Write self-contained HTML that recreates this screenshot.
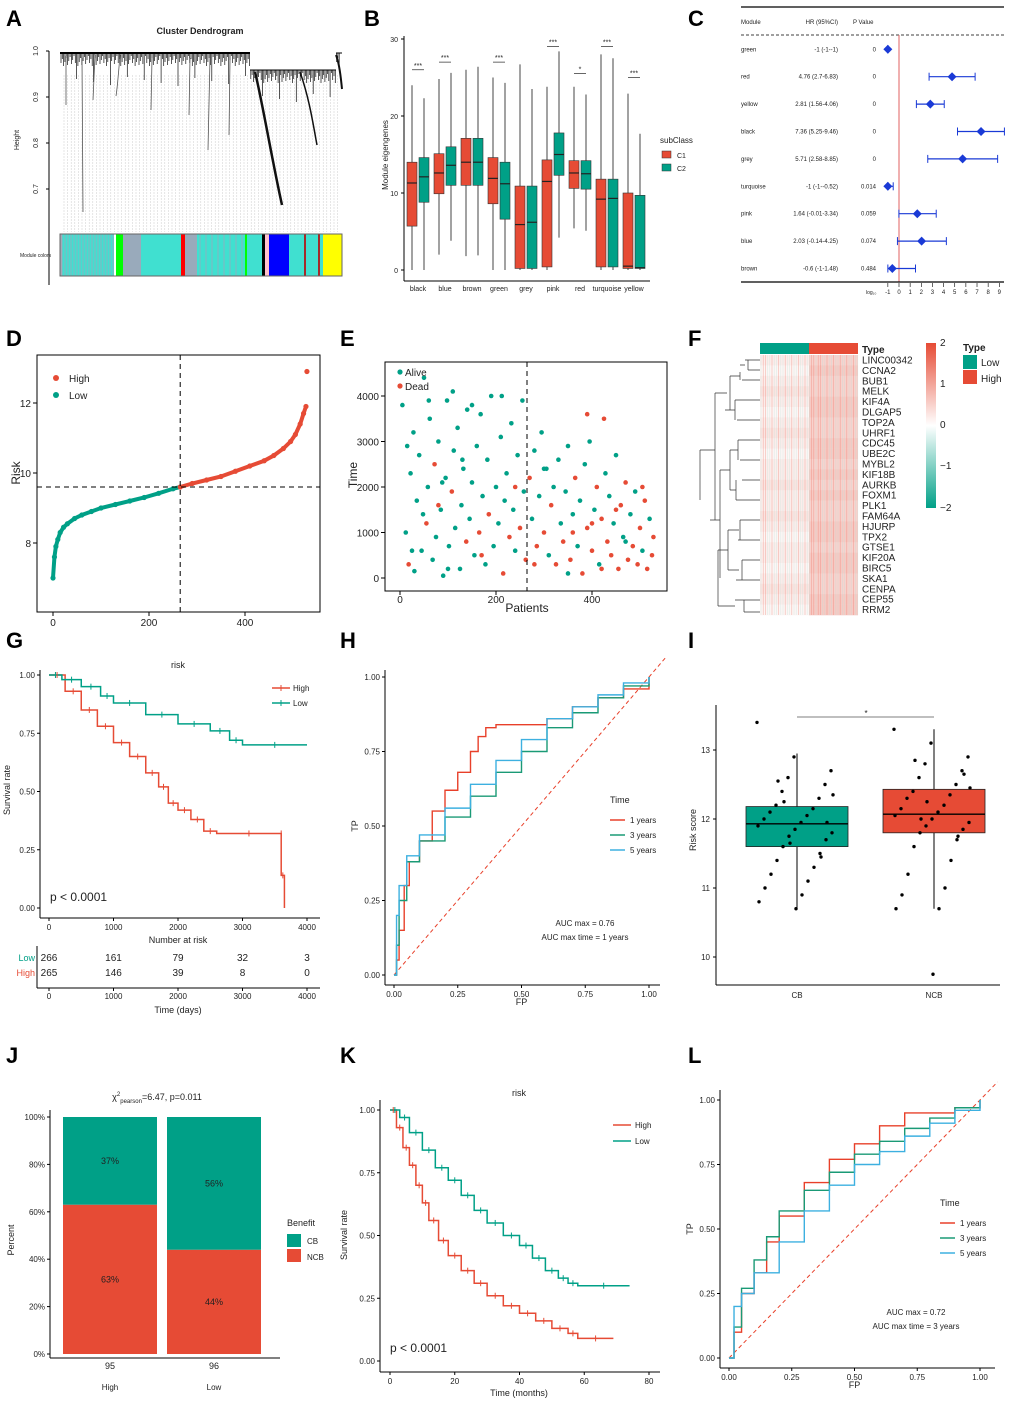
<!DOCTYPE html>
<html><head><meta charset="utf-8"><style>
body{margin:0;background:#fff}
svg{display:block;font-family:"Liberation Sans",Arial,sans-serif}
</style></head><body>
<svg id="fig" width="1020" height="1404" viewBox="0 0 1020 1404" xmlns="http://www.w3.org/2000/svg">
<g font-size="22" font-weight="bold">
<text x="6" y="26">A</text><text x="364" y="26">B</text><text x="688" y="26">C</text>
<text x="6" y="346">D</text><text x="340" y="346">E</text><text x="688" y="346">F</text>
<text x="6" y="648">G</text><text x="340" y="648">H</text><text x="688" y="648">I</text>
<text x="6" y="1063">J</text><text x="340" y="1063">K</text><text x="688" y="1063">L</text>
</g>
</svg>
<script>
const RED='#e64b35',TEAL='#00a087',BLUE='#3db0e0',ROCR='#e8402a',ROCG='#1a9a76';
// ---------- DATA ----------
const bCats=['black','blue','brown','green','grey','pink','red','turquoise','yellow'];
const bC1=[[0,5.7,11.3,14,24],[2,9.9,12.6,15.1,24.8],[1.8,11,14,17.1,26],[0,8.6,11.9,14.6,25],[0,0.2,5.9,10.9,26.7],[0,0.4,11.5,14.3,23.8],[5.4,10.6,12.6,14.2,23.8],[0,0.4,9.2,11.8,28],[0,0.2,0.5,10,22.9]];
const bC2=[[0,8.8,12.1,14.6,22.3],[3.8,11,13.6,16,25.6],[1.9,11,14,17.1,26.4],[0,6.6,11.2,14,24.3],[0,0.2,6.2,10.9,23.5],[4.2,12.3,15,17.8,28.4],[5.1,10.5,12.5,14.2,22.8],[0,0.4,9.3,11.8,27.5],[0,0.2,0.3,9.7,17.7]];
const bStars=['***','***','','***','','***','*','***','***'];
const bStarY=[26,27,0,27,0,29,25.5,29,25];
const cMods=['green','red','yellow','black','grey','turquoise','pink','blue','brown'];
const cHR=[-1,4.76,2.81,7.36,5.71,-1,1.64,2.03,-0.6];
const cLo=[-1,2.7,1.56,5.25,2.58,-1,-0.01,-0.14,-1];
const cHi=[-1,6.83,4.06,9.46,8.85,-0.52,3.34,4.25,1.48];
const cP=['0','0','0','0','0','0.014','0.059','0.074','0.484'];
const dRank=[0,3,6,10,15,22,30,45,60,80,100,130,160,190,220,250,265,290,320,350,380,410,440,460,480,495,505,515,522,527,529];
const dRisk=[7.0,7.6,7.9,8.1,8.3,8.45,8.55,8.7,8.8,8.9,9.0,9.1,9.2,9.3,9.42,9.55,9.6,9.7,9.8,9.9,10.05,10.2,10.35,10.5,10.7,10.9,11.1,11.4,11.7,11.9,12.9];
const ePts=[[5,3800,0],[12,1000,0],[18,300,1],[22,2300,0],[28,3200,0],[30,150,0],[35,1700,0],[40,2700,0],[45,600,0],[50,4400,0],[55,1200,1],[58,2000,0],[62,3500,0],[68,400,0],[72,2500,1],[75,900,0],[80,3000,0],[85,1500,0],[90,50,0],[95,2200,0],[98,3900,0],[102,700,0],[108,1900,1],[112,2800,0],[115,1100,0],[120,3300,0],[125,200,0],[128,1600,0],[132,2400,0],[138,800,1],[140,3700,0],[145,1300,0],[150,2100,0],[155,500,0],[160,2900,0],[165,1000,1],[168,3600,0],[172,1800,0],[178,300,0],[182,2600,0],[185,1400,1],[190,4000,0],[195,700,0],[200,2000,0],[205,1200,0],[210,3100,0],[215,100,1],[218,1700,0],[222,2300,0],[228,900,1],[232,3400,0],[236,1500,0],[240,600,0],[245,2700,0],[250,1100,1],[255,3900,0],[258,1900,0],[262,400,1],[270,2200,1],[275,1300,0],[280,2800,0],[285,700,1],[290,1800,0],[295,3200,0],[300,1000,1],[305,2400,0],[310,500,0],[315,1600,1],[320,2000,0],[325,300,1],[330,2600,0],[335,1200,0],[340,800,1],[345,1900,0],[350,2900,0],[355,400,1],[360,1400,0],[365,2200,1],[370,700,0],[375,1700,0],[380,100,1],[385,2500,0],[390,1100,1],[395,3000,0],[400,600,1],[405,1500,0],[410,2000,1],[415,300,0],[420,1300,1],[425,3500,1],[428,2300,0],[432,800,1],[436,1800,0],[440,500,1],[445,1200,0],[450,2700,0],[455,200,1],[460,1600,1],[465,900,0],[470,2100,1],[475,400,1],[480,1400,0],[485,700,1],[490,1900,0],[495,300,1],[500,1100,1],[505,600,0],[510,1700,1],[515,200,1],[520,1300,0],[525,500,1],[528,900,1],[60,3900,0],[110,4100,0],[150,3800,0],[212,4000,0],[130,2600,0],[88,2100,0],[48,1400,0],[25,600,0],[350,100,0],[400,1200,1],[450,1500,1],[300,2400,0],[240,2000,1],[170,500,1],[390,3600,1],[100,200,0],[80,1600,1],[15,2900,0],[505,2000,1],[470,800,0],[420,200,1],[360,1000,1],[280,300,1]];
const fGenes=['LINC00342','CCNA2','BUB1','MELK','KIF4A','DLGAP5','TOP2A','UHRF1','CDC45','UBE2C','MYBL2','KIF18B','AURKB','FOXM1','PLK1','FAM64A','HJURP','TPX2','GTSE1','KIF20A','BIRC5','SKA1','CENPA','CEP55','RRM2'];
const fLow=[0.2,0.1,0.2,0.3,0.2,0.1,0.2,0.3,0.2,0.1,0.2,0.2,0.3,0.2,0.2,0.3,0.2,0.1,0.2,0.2,0.1,0.2,0.3,0.2,0.1];
const fHigh=[0.5,0.6,0.5,0.5,0.6,0.6,0.5,0.5,0.6,0.6,0.5,0.6,0.5,0.6,0.5,0.5,0.6,0.6,0.5,0.6,0.6,0.5,0.5,0.6,0.6];
const gHighT=[0,250,500,750,1000,1250,1500,1700,1850,2000,2200,2400,2600,3600,3600,3650];
const gHighS=[1,0.93,0.85,0.78,0.71,0.65,0.58,0.52,0.45,0.42,0.38,0.33,0.32,0.32,0.14,0];
const gLowT=[0,200,500,800,1000,1500,2000,2500,2800,3000,4000];
const gLowS=[1,0.98,0.95,0.91,0.88,0.83,0.79,0.76,0.72,0.70,0.70];
const gRiskT=[0,1000,2000,3000,4000];
const gRiskLow=[266,161,79,32,3];
const gRiskHigh=[265,146,39,8,0];
const hF1=[0,0.01,0.02,0.04,0.06,0.1,0.15,0.2,0.25,0.3,0.33,0.36,0.4,0.5,0.6,0.7,0.8,0.9,1];
const hT1=[0,0.05,0.15,0.3,0.38,0.45,0.55,0.62,0.68,0.75,0.8,0.83,0.84,0.84,0.86,0.9,0.93,0.96,1];
const hF3=[0,0.01,0.02,0.05,0.1,0.2,0.3,0.4,0.5,0.6,0.7,0.8,0.9,1];
const hT3=[0,0.1,0.25,0.38,0.45,0.53,0.6,0.68,0.75,0.83,0.88,0.93,0.97,1];
const hF5=[0,0.01,0.02,0.05,0.1,0.2,0.3,0.4,0.5,0.6,0.7,0.8,0.9,1];
const hT5=[0,0.2,0.3,0.4,0.47,0.56,0.64,0.72,0.79,0.86,0.9,0.94,0.98,1];
const iCats=['CB','NCB'];
const iBox=[[10.7,11.6,11.93,12.18,12.95],[10.7,11.8,12.07,12.43,13.3]];
const iCB=[13.4,12.9,12.7,12.6,12.5,12.4,12.3,12.2,12.15,12.1,12.05,12.0,11.95,11.9,11.85,11.8,11.75,11.7,11.6,11.5,11.4,11.3,11.2,11.1,11.0,10.9,10.8,10.7,12.35,11.65,11.95,12.25,11.45,12.55];
const iNCB=[13.3,13.1,12.9,12.8,12.7,12.6,12.5,12.4,12.35,12.3,12.2,12.15,12.1,12.05,12.0,11.95,11.9,11.85,11.8,11.7,11.6,11.4,11.2,11.0,10.9,10.7,10.7,9.75,12.45,12.25,12.65,12.0,11.75,12.85];
const jCats=['High','Low'];
const jNCB=[63,44];
const jCB=[37,56];
const jN=[95,96];
const kHighT=[0,2,4,6,8,10,12,15,18,22,26,30,35,40,45,50,55,58,69];
const kHighS=[1,0.93,0.85,0.78,0.7,0.63,0.56,0.48,0.42,0.36,0.31,0.26,0.22,0.19,0.16,0.13,0.11,0.09,0.09];
const kLowT=[0,3,6,10,14,18,22,26,30,35,40,44,48,52,55,58,74];
const kLowS=[1,0.97,0.91,0.84,0.77,0.72,0.66,0.6,0.55,0.5,0.46,0.41,0.36,0.33,0.31,0.3,0.3];
const lF1=[0,0.02,0.05,0.1,0.15,0.2,0.3,0.4,0.5,0.6,0.7,0.8,0.9,1];
const lT1=[0,0.1,0.25,0.33,0.45,0.55,0.68,0.77,0.83,0.9,0.95,0.95,0.97,1];
const lF3=[0,0.02,0.05,0.1,0.15,0.2,0.3,0.4,0.5,0.6,0.7,0.8,0.9,1];
const lT3=[0,0.12,0.27,0.38,0.47,0.57,0.65,0.72,0.79,0.84,0.89,0.93,0.97,1];
const lF5=[0,0.02,0.05,0.1,0.2,0.3,0.4,0.5,0.6,0.7,0.8,0.9,1];
const lT5=[0,0.2,0.25,0.33,0.45,0.57,0.67,0.75,0.8,0.86,0.91,0.96,1];
// ---------- HELPERS ----------
const svg=document.getElementById('fig');
const NS='http://www.w3.org/2000/svg';
function mk(tag,attrs,name,parent){
  const el=document.createElementNS(NS,tag);
  for(const k in attrs) el.setAttribute(k,attrs[k]);
  
  
  (parent||svg).appendChild(el);return el;
}
function tx(x,y,s,name,o){o=o||{};const el=mk('text',Object.assign({x:x,y:y,'font-size':9,fill:'#222'},o),name);el.textContent=s;return el;}
function ln(x1,y1,x2,y2,name,o){return mk('line',Object.assign({x1:x1,y1:y1,x2:x2,y2:y2,stroke:'#000','stroke-width':1},o||{}),name);}
function lin(d0,d1,r0,r1){return v=>r0+(v-d0)*(r1-r0)/(d1-d0);}
function step(xs,ys,fx,fy){let d='M'+fx(xs[0])+','+fy(ys[0]);for(let i=1;i<xs.length;i++){d+=' H'+fx(xs[i])+' V'+fy(ys[i]);}return d;}
// ---------- A dendrogram ----------
tx(200,34,'Cluster Dendrogram','dendrogram-title',{'font-size':9,'font-weight':'bold','text-anchor':'middle'});
{const y=lin(0.7,1.0,189,51);
 ln(49,y(1.0),49,285,'a-y-axis',{stroke:'#000'});
 [0.7,0.8,0.9,1.0].forEach(v=>{ln(46,y(v),49,y(v),'a-tick');tx(38,y(v),v.toFixed(1),'a-tick-label',{transform:`rotate(-90 38 ${y(v)})`,'text-anchor':'middle','font-size':7});});
 tx(19,140,'Height','a-y-title',{transform:'rotate(-90 19 140)','text-anchor':'middle','font-size':7});
 for(let x=64;x<340;x+=3.6) ln(x,75,x,232,'dendro-leaf',{stroke:'#ccc','stroke-width':0.5,'stroke-dasharray':'2,1'});
 // top fringe: short hanging branches
 let d='';let k=0;
 for(let x=61;x<340;x+=1.3){k++;const base=(x>250&&x<336)?70:53;const len=3+((k*7)%11)+((k%13===0)?20:0);d+=`M${x.toFixed(1)},${base} V${base+len} `;}
 mk('path',{d:d,stroke:'#111','stroke-width':0.7,fill:'none'},'dendro-fringe');
 ln(60,53,250,53,'dendro-top',{'stroke-width':2});ln(250,70,336,70,'dendro-top',{'stroke-width':1});ln(336,53,342,53,'dendro-top',{'stroke-width':1});
 mk('path',{d:'M255,72 C262,100 272,160 282,205',stroke:'#111','stroke-width':2.5,fill:'none'},'dendro-branch');
 mk('path',{d:'M300,72 C310,100 314,130 317,145',stroke:'#111','stroke-width':1.5,fill:'none'},'dendro-branch');
 mk('path',{d:'M336,55 C340,65 341,80 342,89',stroke:'#111','stroke-width':2,fill:'none'},'dendro-branch');
 mk('path',{d:'M120,55 C118,80 117,90 116,96 M95,55 L93,100 M66,56 L66,105 M82,58 L83,212 M152,58 L151,110 M210,58 L208,150 M230,60 L229,135 M190,58 L189,115',stroke:'#555','stroke-width':0.8,fill:'none'},'dendro-branch');
 const segs=[['#aab',60,2],['#40e0d0',62,52],['#00ff00',116,7],['#9ab',123,18],['#40e0d0',141,40],['#ff0000',181,4],['#9ab',185,12],['#40e0d0',197,48],['#00ff00',245,2],['#40e0d0',247,15],['#000',262,3],['#ffc0cb',265,4],['#0000ff',269,20],['#40e0d0',289,34],['#a52a2a',304,2],['#a52a2a',318,2],['#ffff00',323,19]];
 segs.forEach(s=>mk('rect',{x:s[1],y:234,width:s[2],height:42,fill:s[0]},'module-color-seg'));
 for(let x=62;x<115;x+=3) ln(x,234,x,276,'module-color-stripe',{stroke:'#9ab','stroke-width':0.8});
 for(let x=200;x<245;x+=6) ln(x,234,x,276,'module-color-stripe',{stroke:'#9ab','stroke-width':0.8});
 mk('rect',{x:60,y:234,width:282,height:42,fill:'none',stroke:'#666'},'module-color-bar');
 tx(20,257,'Module colors','module-colors-label',{'font-size':5});
}
// ---------- B boxplot ----------
{const y=lin(0,30,270,39),x0=418,dx=27;
 ln(404,36,404,281,'b-y-axis');ln(404,281,650,281,'b-x-axis');
 [0,10,20,30].forEach(v=>{ln(401,y(v),404,y(v),'b-tick');tx(398,y(v)+3,v,'b-tick-label',{'text-anchor':'end','font-size':7});});
 tx(388,155,'Module eigengenes','b-y-title',{transform:'rotate(-90 388 155)','text-anchor':'middle','font-size':8});
 bCats.forEach((c,i)=>{const cx=x0+i*dx;
  tx(cx,291,c,'b-x-label',{'text-anchor':'middle','font-size':7});
  [[bC1[i],RED,-6],[bC2[i],TEAL,6]].forEach(([b,col,o])=>{const bx=cx+o;
   ln(bx,y(b[0]),bx,y(b[4]),'b-whisker',{stroke:'#444'});
   mk('rect',{x:bx-5,y:y(b[3]),width:10,height:y(b[1])-y(b[3]),fill:col,stroke:'#333','stroke-width':0.6},'b-box-'+c);
   ln(bx-5,y(b[2]),bx+5,y(b[2]),'b-median',{stroke:'#222','stroke-width':1.2});
  });
  if(bStars[i]){const sy=y(bStarY[i]);ln(cx-6,sy,cx+6,sy,'b-sig-line',{'stroke-width':0.6});tx(cx,sy-2,bStars[i],'b-sig-stars',{'text-anchor':'middle','font-size':7});}
 });
 tx(660,143,'subClass','b-legend-title',{'font-size':8});
 mk('rect',{x:662,y:151,width:9,height:7,fill:RED,stroke:'#333','stroke-width':0.5},'b-legend-c1-key');
 tx(677,158,'C1','b-legend-c1',{'font-size':7});
 mk('rect',{x:662,y:164,width:9,height:7,fill:TEAL,stroke:'#333','stroke-width':0.5},'b-legend-c2-key');
 tx(677,171,'C2','b-legend-c2',{'font-size':7});
}
// ---------- C forest ----------
{const x=lin(0,9,899,999.3),rowY=i=>49.3+i*27.4;
 ln(741,7,1004,7,'c-top-line',{'stroke-width':1.2});
 tx(741,24,'Module','c-header-module',{'font-size':6});tx(838,24,'HR (95%CI)','c-header-hr',{'font-size':6,'text-anchor':'end'});tx(853,24,'P Value','c-header-p',{'font-size':6});
 ln(741,35,1004,35,'c-dash-line',{'stroke-dasharray':'3,2','stroke-width':0.8});
 ln(899,35,899,282,'c-ref-line',{stroke:'#e06060'});
 cMods.forEach((m,i)=>{const yy=rowY(i);
  tx(741,yy+2,m,'c-module-'+m,{'font-size':6});
  tx(838,yy+2,`${cHR[i]} (${cLo[i]}-${cHi[i]})`,'c-hr-text',{'font-size':6,'text-anchor':'end'});
  tx(876,yy+2,cP[i],'c-p-text',{'font-size':6,'text-anchor':'end'});
  ln(x(cLo[i]),yy,x(cHi[i]),yy,'c-ci-line',{stroke:'#1a3ad6','stroke-width':1.2});
  ln(x(cLo[i]),yy-4,x(cLo[i]),yy+4,'c-ci-cap',{stroke:'#1a3ad6'});ln(x(cHi[i]),yy-4,x(cHi[i]),yy+4,'c-ci-cap',{stroke:'#1a3ad6'});
  const hx=x(cHR[i]);mk('path',{d:`M${hx-4.5},${yy} L${hx},${yy-4.5} L${hx+4.5},${yy} L${hx},${yy+4.5}Z`,fill:'#1a3ad6'},'c-hr-point');
 });
 ln(741,282,1004,282,'c-bottom-line',{'stroke-width':1.2});
 tx(866,294,'log₁₀','c-axis-title',{'font-size':5});
 for(let v=-1;v<=9;v++){ln(x(v),283,x(v),287,'c-tick',{'stroke-width':0.6});tx(x(v),294,v,'c-tick-label',{'font-size':6,'text-anchor':'middle'});}
}
// ---------- D risk ----------
{const x=lin(0,400,53,245),y=lin(8,12,543,403);
 mk('rect',{x:37,y:355,width:283,height:257,fill:'none',stroke:'#000'},'d-plot-box');
 [0,200,400].forEach(v=>{ln(x(v),612,x(v),616,'d-tick');tx(x(v),626,v,'d-tick-label',{'text-anchor':'middle','font-size':10});});
 [8,10,12].forEach(v=>{ln(33,y(v),37,y(v),'d-tick');tx(31,y(v)+4,v,'d-tick-label',{'text-anchor':'end','font-size':10});});
 tx(20,473,'Risk','d-y-title',{transform:'rotate(-90 20 473)','text-anchor':'middle','font-size':12});
 let lo='',hi='';dRank.forEach((r,i)=>{const p=x(r)+','+y(dRisk[i]);if(r<=265)lo+=(lo?' L':'M')+p;if(r>=265&&r<529)hi+=(hi?' L':'M')+p;});
 mk('path',{d:lo,stroke:TEAL,'stroke-width':4,fill:'none'},'d-low-risk-curve');
 mk('path',{d:hi,stroke:RED,'stroke-width':4,fill:'none'},'d-high-risk-curve');
 dRank.forEach((r,i)=>mk('circle',{cx:x(r),cy:y(dRisk[i]),r:2.6,fill:r<265?TEAL:RED},'d-risk-point'));
 ln(x(265),355,x(265),612,'d-cutoff-v',{'stroke-dasharray':'5,4'});ln(37,y(9.6),320,y(9.6),'d-cutoff-h',{'stroke-dasharray':'5,4'});
 mk('circle',{cx:56,cy:378,r:3,fill:RED},'d-legend-high-key');tx(69,382,'High','d-legend-high',{'font-size':10});
 mk('circle',{cx:56,cy:395,r:3,fill:TEAL},'d-legend-low-key');tx(69,399,'Low','d-legend-low',{'font-size':10});
}
// ---------- E scatter ----------
{const x=lin(0,400,400,592),y=lin(0,4000,578,396);
 mk('rect',{x:385,y:362,width:282,height:229,fill:'none',stroke:'#000'},'e-plot-box');
 [0,200,400].forEach(v=>{ln(x(v),591,x(v),595,'e-tick');tx(x(v),603,v,'e-tick-label',{'text-anchor':'middle','font-size':10});});
 [0,1000,2000,3000,4000].forEach(v=>{ln(381,y(v),385,y(v),'e-tick');tx(379,y(v)+4,v,'e-tick-label',{'text-anchor':'end','font-size':10});});
 tx(527,612,'Patients','e-x-title',{'text-anchor':'middle','font-size':12});
 tx(357,475,'Time','e-y-title',{transform:'rotate(-90 357 475)','text-anchor':'middle','font-size':12});
 ePts.forEach(p=>mk('circle',{cx:x(p[0]),cy:y(p[1]),r:2.3,fill:p[2]?RED:TEAL},p[2]?'e-dead-point':'e-alive-point'));
 ln(527,362,527,591,'e-cutoff',{'stroke-dasharray':'5,4'});
 mk('circle',{cx:400,cy:372,r:2.6,fill:TEAL},'e-legend-alive-key');tx(405,376,'Alive','e-legend-alive',{'font-size':10});
 mk('circle',{cx:400,cy:386,r:2.6,fill:RED},'e-legend-dead-key');tx(405,390,'Dead','e-legend-dead',{'font-size':10});
}
// ---------- F heatmap ----------
{const top=355,rh=260/fGenes.length;
 mk('rect',{x:760,y:343,width:49,height:11,fill:TEAL},'f-annot-low');mk('rect',{x:809,y:343,width:49,height:11,fill:RED},'f-annot-high');
 function col(v){v=Math.max(-2,Math.min(2,v));if(v>=0){const t=v/2;return `rgb(${255-t*25|0},${255-t*180|0},${255-t*200|0})`;}const t=-v/2;return `rgb(${255-t*255|0},${255-t*95|0},${255-t*120|0})`;}
 fGenes.forEach((g,i)=>{
  mk('rect',{x:760,y:top+i*rh,width:49,height:rh+0.3,fill:col(fLow[i])},'f-cell-low-'+g);
  mk('rect',{x:809,y:top+i*rh,width:49,height:rh+0.3,fill:col(fHigh[i])},'f-cell-high-'+g);
  tx(862,top+i*rh+8.5,g,'f-gene-'+g,{'font-size':10});
 });
 for(let xx=761;xx<858;xx+=2.2) ln(xx,355,xx,615,'f-texture',{stroke:(Math.round(xx*3)%5<2)?'#e86a58':'#b8e0d6','stroke-width':0.6,opacity:0.45});
 tx(862,353,'Type','f-type-label',{'font-size':10,'font-weight':'bold'});
 let d='M760,360 H745 M760,370 H748 M748,360 V370 M745,365 H740 M760,380 H742 M740,372 V380 M740,376 H730 M760,400 H735 M760,420 H737 M735,400 V420 M735,410 H725 M730,376 V410 M727,393 H715 M760,440 H738 M760,460 H740 M738,440 V460 M760,480 H742 M760,500 H736 M736,480 V500 M738,450 H730 M736,490 H730 M730,450 V490 M730,470 H720 M760,520 H740 M760,540 H738 M740,520 V540 M760,560 H742 M760,580 H736 M742,560 V580 M739,530 H728 M739,570 H728 M728,530 V570 M760,600 H735 M760,612 H744 M744,600 V612 M728,550 H718 M718,550 V606 M718,606 H735 M720,470 V578 M720,520 H710 M715,393 V520 M715,450 H700 M700,450 V500';
 mk('path',{d:d,stroke:'#333','stroke-width':0.7,fill:'none'},'f-row-dendrogram');
 const g=mk('linearGradient',{id:'fgrad',x1:0,y1:0,x2:0,y2:1},'f-gradient');
 [[0,'#e64b35'],[0.5,'#ffffff'],[1,'#00a087']].forEach(s=>mk('stop',{offset:s[0],'stop-color':s[1]},'f-grad-stop',g));
 mk('rect',{x:926,y:343,width:10,height:165,fill:'url(#fgrad)'},'f-color-scale');
 [[2,346],[1,387],[0,428],[-1,469],[-2,511]].forEach(([v,yy])=>tx(940,yy,v===-1?'−1':v===-2?'−2':v,'f-scale-label',{'font-size':10}));
 tx(963,351,'Type','f-legend-title',{'font-size':10,'font-weight':'bold'});
 mk('rect',{x:963,y:355,width:14,height:14,fill:TEAL},'f-legend-low-key');tx(981,366,'Low','f-legend-low',{'font-size':10});
 mk('rect',{x:963,y:370,width:14,height:14,fill:RED},'f-legend-high-key');tx(981,382,'High','f-legend-high',{'font-size':10});
}
// ---------- KM helper ----------
function km(o){const x=o.x,y=o.y;
 ln(o.ax,o.y0,o.ax,o.y1,o.p+'-y-axis');ln(o.ax,o.bx,o.x1,o.bx,o.p+'-x-axis');
 [0,0.25,0.5,0.75,1].forEach(v=>{ln(o.ax-3,y(v),o.ax,y(v),o.p+'-tick');tx(o.ax-5,y(v)+3,v.toFixed(2),o.p+'-tick-label',{'text-anchor':'end','font-size':8});});
 o.xt.forEach(v=>{ln(x(v),o.bx,x(v),o.bx+3,o.p+'-tick');tx(x(v),o.bx+12,v,o.p+'-tick-label',{'text-anchor':'middle','font-size':8});});
 mk('path',{d:step(o.hT,o.hS,x,y),stroke:RED,'stroke-width':1.5,fill:'none'},o.p+'-high-curve');
 mk('path',{d:step(o.lT,o.lS,x,y),stroke:TEAL,'stroke-width':1.5,fill:'none'},o.p+'-low-curve');
 [[o.hT,o.hS,RED],[o.lT,o.lS,TEAL]].forEach(([T,S,c])=>{for(let i=1;i<T.length;i++){const xm=(x(T[i-1])+x(T[i]))/2;ln(xm,y(S[i-1])-3,xm,y(S[i-1])+3,o.p+'-censor',{stroke:c});}});
}
// ---------- G ----------
{const x=lin(0,4000,49,307),y=lin(0,1,908,675);
 km({p:'g',x:x,y:y,ax:40,y0:670,y1:918,bx:918,x1:320,xt:gRiskT,hT:gHighT,hS:gHighS,lT:gLowT,lS:gLowS});
 tx(178,668,'risk','g-title',{'text-anchor':'middle','font-size':9});
 ln(272,688,290,688,'g-legend-high-key',{stroke:RED,'stroke-width':1.5});ln(281,685,281,691,'g-legend-tick',{stroke:RED});tx(293,691,'High','g-legend-high',{'font-size':8});
 ln(272,703,290,703,'g-legend-low-key',{stroke:TEAL,'stroke-width':1.5});ln(281,700,281,706,'g-legend-tick',{stroke:TEAL});tx(293,706,'Low','g-legend-low',{'font-size':8});
 tx(50,901,'p < 0.0001','g-pvalue',{'font-size':12});
 tx(10,790,'Survival rate','g-y-title',{transform:'rotate(-90 10 790)','text-anchor':'middle','font-size':9});
 tx(178,943,'Number at risk','g-risk-title',{'text-anchor':'middle','font-size':9});
 ln(37,946,37,988,'g-risk-axis');ln(37,988,320,988,'g-risk-xaxis');
 gRiskT.forEach((t,i)=>{tx(x(t),961,gRiskLow[i],'g-risk-low',{'text-anchor':'middle','font-size':10});tx(x(t),976,gRiskHigh[i],'g-risk-high',{'text-anchor':'middle','font-size':10});
  ln(x(t),988,x(t),991,'g-risk-tick');tx(x(t),999,t,'g-risk-tick-label',{'text-anchor':'middle','font-size':8});});
 tx(35,961,'Low','g-risk-low-label',{'text-anchor':'end','font-size':9,fill:TEAL});tx(35,976,'High','g-risk-high-label',{'text-anchor':'end','font-size':9,fill:RED});
 tx(178,1013,'Time (days)','g-x-title',{'text-anchor':'middle','font-size':9});
}
// ---------- ROC helper ----------
function roc(o){const x=o.x,y=o.y;
 ln(o.ax,o.y0,o.ax,o.bx,o.p+'-y-axis');ln(o.ax,o.bx,o.x1,o.bx,o.p+'-x-axis');
 [0,0.25,0.5,0.75,1].forEach(v=>{ln(o.ax-3,y(v),o.ax,y(v),o.p+'-tick');tx(o.ax-5,y(v)+3,v.toFixed(2),o.p+'-tick-label',{'text-anchor':'end','font-size':8});
  ln(x(v),o.bx,x(v),o.bx+3,o.p+'-tick');tx(x(v),o.bx+12,v.toFixed(2),o.p+'-tick-label',{'text-anchor':'middle','font-size':8});});
 ln(x(0),y(0),x(1.07),y(1.07),o.p+'-diagonal',{stroke:'#e8402a','stroke-dasharray':'4,3'});
 o.c.forEach(([F,T,col,nm])=>mk('path',{d:step(F,T,x,y),stroke:col,'stroke-width':1.4,fill:'none'},o.p+'-roc-'+nm));
 const L=o.lg;tx(L[0],L[1],'Time','time-legend-title',{'font-size':9});
 [['1 years',ROCR],['3 years',ROCG],['5 years',BLUE]].forEach(([s,c],i)=>{ln(L[0],L[1]+17+i*15,L[0]+15,L[1]+17+i*15,o.p+'-legend-key',{stroke:c,'stroke-width':1.5});tx(L[0]+20,L[1]+20+i*15,s,o.p+'-legend-label',{'font-size':8});});
 tx(o.auc[0],o.auc[1],o.auc[2],o.p+'-auc',{'text-anchor':'middle','font-size':8});tx(o.auc[0],o.auc[1]+14,o.auc[3],o.p+'-auc-time',{'text-anchor':'middle','font-size':8});
 tx(x(0.5),o.bx+20,'FP','fp-label',{'text-anchor':'middle','font-size':9});
 tx(o.ax-27,(y(0)+y(1))/2,'TP','tp-label',{transform:`rotate(-90 ${o.ax-27} ${(y(0)+y(1))/2})`,'text-anchor':'middle','font-size':9});
}
roc({p:'h',x:lin(0,1,394,649),y:lin(0,1,975,677),ax:385,y0:670,bx:985,x1:660,lg:[610,803],auc:[585,926,'AUC max = 0.76','AUC max time = 1 years'],
 c:[[hF1,hT1,ROCR,'1y'],[hF3,hT3,ROCG,'3y'],[hF5,hT5,BLUE,'5y']]});
roc({p:'l',x:lin(0,1,729,980),y:lin(0,1,1358,1100),ax:720,y0:1090,bx:1368,x1:995,lg:[940,1206],auc:[916,1315,'AUC max = 0.72','AUC max time = 3 years'],
 c:[[lF1,lT1,ROCR,'1y'],[lF3,lT3,ROCG,'3y'],[lF5,lT5,BLUE,'5y']]});
// ---------- I ----------
{const y=lin(10,13,957,750),cx=[797,934],cols=[TEAL,RED];
 ln(716,705,716,985,'i-y-axis');ln(716,985,1000,985,'i-x-axis');
 [10,11,12,13].forEach(v=>{ln(713,y(v),716,y(v),'i-tick');tx(710,y(v)+3,v,'i-tick-label',{'text-anchor':'end','font-size':8});});
 tx(696,830,'Risk score','i-y-title',{transform:'rotate(-90 696 830)','text-anchor':'middle','font-size':9});
 iCats.forEach((c,i)=>{const b=iBox[i];
  ln(cx[i],y(b[0]),cx[i],y(b[4]),'i-whisker');
  mk('rect',{x:cx[i]-51,y:y(b[3]),width:102,height:y(b[1])-y(b[3]),fill:cols[i],stroke:'#222','stroke-width':0.8},'i-box-'+c);
  ln(cx[i]-51,y(b[2]),cx[i]+51,y(b[2]),'i-median',{'stroke-width':1.3});
  tx(cx[i],998,c,'i-x-label',{'text-anchor':'middle','font-size':8});
 });
 [iCB,iNCB].forEach((arr,g)=>arr.forEach((v,j)=>mk('circle',{cx:cx[g]+((j*37)%80-40),cy:y(v),r:1.7,fill:'#000'},'i-point')));
 ln(797,717,934,717,'i-sig-line',{'stroke-width':0.6});tx(866,716,'*','i-sig-star',{'text-anchor':'middle','font-size':8});
}
// ---------- J ----------
{const y=lin(0,100,1354,1117),bx=[63,167];
 ln(50,1110,50,1358,'j-y-axis');ln(50,1358,280,1358,'j-x-axis');
 [0,20,40,60,80,100].forEach(v=>{ln(47,y(v),50,y(v),'j-tick');tx(45,y(v)+3,v+'%','j-tick-label',{'text-anchor':'end','font-size':8});});
 tx(14,1240,'Percent','j-y-title',{transform:'rotate(-90 14 1240)','text-anchor':'middle','font-size':9});
 jCats.forEach((c,i)=>{
  mk('rect',{x:bx[i],y:y(jNCB[i]),width:94,height:y(0)-y(jNCB[i]),fill:RED},'j-bar-ncb-'+c);
  mk('rect',{x:bx[i],y:y(100),width:94,height:y(jNCB[i])-y(100),fill:TEAL},'j-bar-cb-'+c);
  tx(bx[i]+47,(y(0)+y(jNCB[i]))/2+3,jNCB[i]+'%','j-ncb-label',{'text-anchor':'middle','font-size':9});
  tx(bx[i]+47,(y(jNCB[i])+y(100))/2+3,jCB[i]+'%','j-cb-label',{'text-anchor':'middle','font-size':9});
  tx(bx[i]+47,1369,jN[i],'j-count',{'text-anchor':'middle','font-size':9});
  tx(bx[i]+47,1390,c,'j-x-label',{'text-anchor':'middle','font-size':8});
 });
 const t=tx(157,1100,'','j-title',{'text-anchor':'middle','font-size':9});t.innerHTML='χ<tspan font-size="6" dy="-4">2</tspan><tspan font-size="6" dy="7">pearson</tspan><tspan dy="-3">=6.47, p=0.011</tspan>';
 tx(287,1226,'Benefit','j-legend-title',{'font-size':9});
 mk('rect',{x:287,y:1234,width:14,height:13,fill:TEAL},'j-legend-cb-key');tx(307,1244,'CB','j-legend-cb',{'font-size':8});
 mk('rect',{x:287,y:1249,width:14,height:13,fill:RED},'j-legend-ncb-key');tx(307,1260,'NCB','j-legend-ncb',{'font-size':8});
}
// ---------- K ----------
{const x=lin(0,80,390,649),y=lin(0,1,1361,1110);
 km({p:'k',x:x,y:y,ax:380,y0:1100,y1:1372,bx:1372,x1:660,xt:[0,20,40,60,80],hT:kHighT,hS:kHighS,lT:kLowT,lS:kLowS});
 tx(519,1096,'risk','k-title',{'text-anchor':'middle','font-size':9});
 ln(613,1125,631,1125,'k-legend-high-key',{stroke:RED,'stroke-width':1.5});tx(635,1128,'High','k-legend-high',{'font-size':8});
 ln(613,1141,631,1141,'k-legend-low-key',{stroke:TEAL,'stroke-width':1.5});tx(635,1144,'Low','k-legend-low',{'font-size':8});
 tx(390,1352,'p < 0.0001','k-pvalue',{'font-size':12});
 tx(347,1235,'Survival rate','k-y-title',{transform:'rotate(-90 347 1235)','text-anchor':'middle','font-size':9});
 tx(519,1396,'Time (months)','k-x-title',{'text-anchor':'middle','font-size':9});
}
</script>
</body></html>
